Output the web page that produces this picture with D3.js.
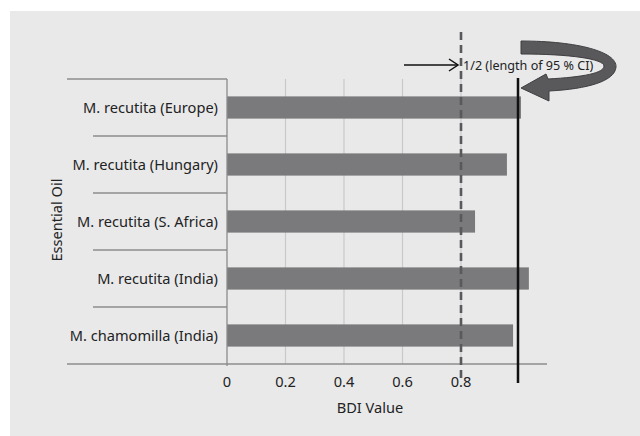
<!DOCTYPE html>
<html>
<head>
    <title>BDI Value</title>
    <style>
        body { margin: 0; background: #fff; }
        svg { display: block; font-family: "Noto Sans", sans-serif; }
    </style>
</head>
<body>
    <div id="chart"></div>
    <script src="https://cdnjs.cloudflare.com/ajax/libs/d3/7.8.5/d3.min.js"></script>
    <script>
        // Data
        const oils = ["M. recutita (Europe)", "M. recutita (Hungary)", "M. recutita (S. Africa)", "M. recutita (India)", "M. chamomilla (India)"];
        const bdi = [1.005, 0.957, 0.848, 1.032, 0.978];
        const ticks = [0, 0.2, 0.4, 0.6, 0.8];
        const threshold = 0.8;   // dashed line
        const ciLine = 1.0;      // solid line
        const note = "1/2 (length of 95 % CI)";

        const width = 640, height = 436;
        const fs = 14.6;

        const svg = d3.select("#chart").append("svg")
            .attr("width", width)
            .attr("height", height);

        // grey panel
        svg.append("rect")
            .attr("x", 10).attr("y", 11)
            .attr("width", width - 10).attr("height", height - 11)
            .attr("fill", "#e9e9ea");

        const x = d3.scaleLinear().domain([0, 1]).range([227, 519.5]);
        const y = d3.scaleBand().domain(oils).range([79, 364]).paddingInner(0.61).paddingOuter(0.305);

        // vertical gridlines
        svg.append("g").selectAll("line")
            .data(ticks.slice(1))
            .join("line")
            .attr("x1", d => x(d)).attr("x2", d => x(d))
            .attr("y1", 79).attr("y2", 364)
            .attr("stroke", "#c9c9cb").attr("stroke-width", 1.2);

        // category separators
        const gap = (y.step() - y.bandwidth()) / 2;
        svg.append("g").selectAll("line")
            .data(oils.slice(1))
            .join("line")
            .attr("x1", 93).attr("x2", x(0))
            .attr("y1", d => y(d) - gap)
            .attr("y2", d => y(d) - gap)
            .attr("stroke", "#8c8c8e").attr("stroke-width", 1.3);
        svg.append("line")
            .attr("x1", 67).attr("x2", x(0)).attr("y1", 79).attr("y2", 79)
            .attr("stroke", "#8c8c8e").attr("stroke-width", 1.3);

        // bars
        svg.append("g").selectAll("rect")
            .data(oils)
            .join("rect")
            .attr("x", x(0))
            .attr("y", d => y(d))
            .attr("width", (d, i) => x(bdi[i]) - x(0))
            .attr("height", y.bandwidth())
            .attr("fill", "#7a7a7c");

        // axes lines
        svg.append("line")
            .attr("x1", 67).attr("x2", 547).attr("y1", 364).attr("y2", 364)
            .attr("stroke", "#8c8c8e").attr("stroke-width", 1.3);
        svg.append("line")
            .attr("x1", x(0)).attr("x2", x(0)).attr("y1", 79).attr("y2", 366)
            .attr("stroke", "#8c8c8e").attr("stroke-width", 1.3);

        // category labels
        svg.append("g").selectAll("text")
            .data(oils)
            .join("text")
            .attr("x", 218)
            .attr("y", d => y(d) + y.bandwidth() / 2)
            .attr("dy", "0.35em")
            .attr("text-anchor", "end")
            .attr("font-size", fs)
            .attr("fill", "#222")
            .text(d => d);

        // tick labels
        svg.append("g").selectAll("text")
            .data(ticks)
            .join("text")
            .attr("x", d => x(d))
            .attr("y", 382)
            .attr("dy", "0.35em")
            .attr("text-anchor", "middle")
            .attr("font-size", fs)
            .attr("fill", "#222")
            .text(d => d === 0 ? "0" : d3.format(".1f")(d));

        // axis titles
        svg.append("text")
            .attr("x", 370).attr("y", 408)
            .attr("dy", "0.35em")
            .attr("text-anchor", "middle")
            .attr("font-size", fs)
            .attr("fill", "#222")
            .text("BDI Value");
        svg.append("text")
            .attr("transform", "translate(57,220) rotate(-90)")
            .attr("dy", "0.35em")
            .attr("text-anchor", "middle")
            .attr("font-size", fs)
            .attr("fill", "#222")
            .text("Essential Oil");

        // threshold dashed line
        svg.append("line")
            .attr("x1", x(threshold)).attr("x2", x(threshold))
            .attr("y1", 32).attr("y2", 378)
            .attr("stroke", "#59595b").attr("stroke-width", 2.6)
            .attr("stroke-dasharray", "8,5");

        // CI solid line
        svg.append("line")
            .attr("x1", x(ciLine) - 1.5).attr("x2", x(ciLine) - 1.5)
            .attr("y1", 78).attr("y2", 383)
            .attr("stroke", "#111").attr("stroke-width", 2.5);

        // annotation arrow + text
        const ay = 65;
        svg.append("line")
            .attr("x1", 404).attr("x2", x(threshold) - 3)
            .attr("y1", ay).attr("y2", ay)
            .attr("stroke", "#111").attr("stroke-width", 1.5);
        svg.append("path")
            .attr("d", `M${x(threshold) - 12},${ay - 6} L${x(threshold) - 3},${ay} L${x(threshold) - 12},${ay + 6}`)
            .attr("fill", "none").attr("stroke", "#111").attr("stroke-width", 1.5);
        svg.append("text")
            .attr("x", x(threshold) + 2).attr("y", ay + 1)
            .attr("dy", "0.35em")
            .attr("font-size", 12.6)
            .attr("fill", "#222")
            .text(note);

        // curved grey arrow
        svg.append("path")
            .attr("d", "M521,41 C578,41 617,52 616,67 C615,81 588,89 549,91 L549,101 L521,88 L546,74 L548,79 C584,77 604,73 604,66 C604,59 570,54 521,54 Z")
            .attr("fill", "#59595b")
            .attr("stroke", "#3e3e40").attr("stroke-width", 1);
    </script>
</body>
</html>
